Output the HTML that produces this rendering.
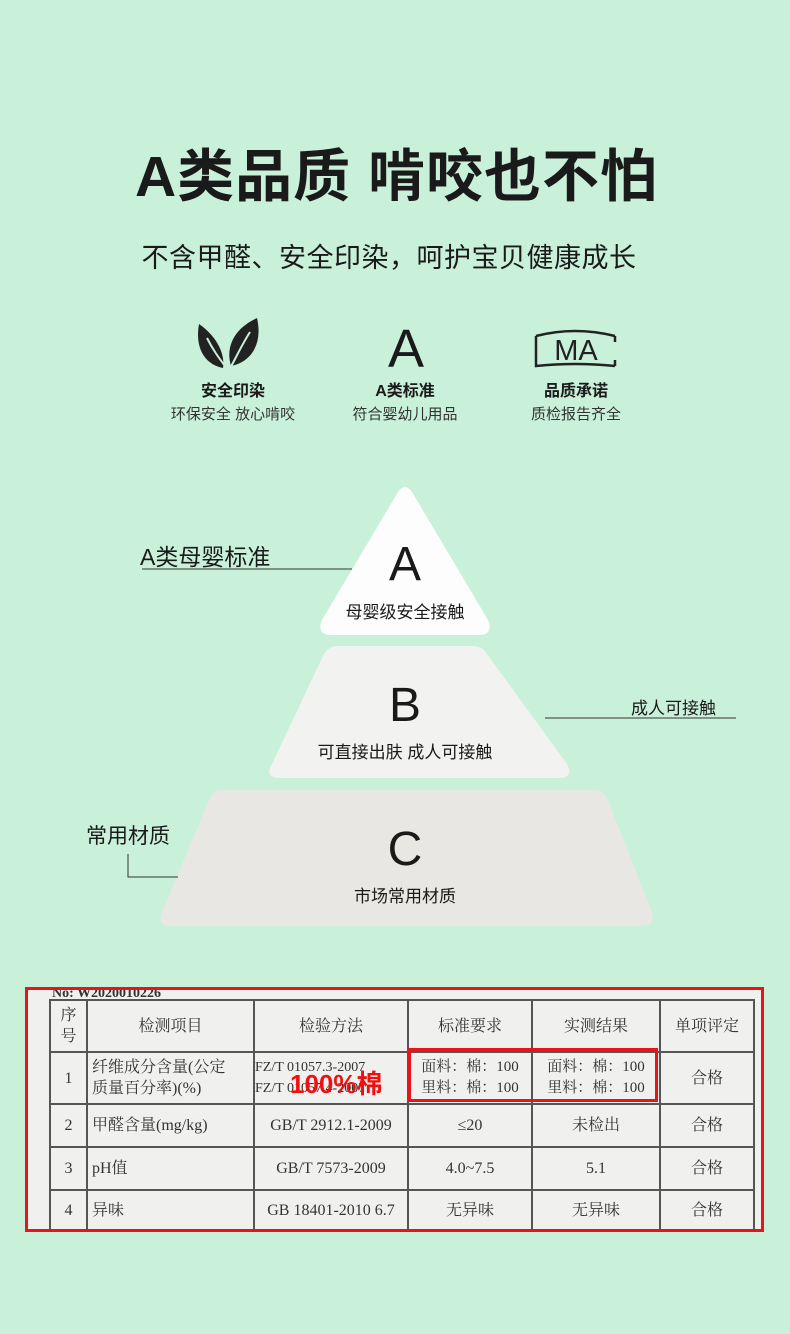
<!DOCTYPE html>
<html><head><meta charset="utf-8"><style>
body{margin:0;width:790px;height:1334px;background:#c9f1da;position:relative;overflow:hidden;font-family:"Liberation Sans","Noto Sans CJK SC",sans-serif;color:#1a1a1a}
.t{position:absolute;white-space:nowrap}
.c{text-align:center}
table{border-collapse:collapse;font-family:"Liberation Serif","Noto Serif CJK SC",serif;color:#333;table-layout:fixed}
td{border:2px solid #555;text-align:center;font-size:16px;padding:0;line-height:21px}
</style></head><body>
<div class="t c" style="left:0;width:793px;top:131px;font-size:57px;font-weight:bold;letter-spacing:1px">A类品质 啃咬也不怕</div>
<div class="t c" style="left:0;width:778px;top:236px;font-size:27px;letter-spacing:0.5px">不含甲醛、安全印染，呵护宝贝健康成长</div>

<svg style="position:absolute;left:195px;top:316px" width="75" height="58" viewBox="0 0 75 58">
<path d="M4 8 C0 30 8 48 28 52 C30 40 24 22 4 8Z" fill="#222"/>
<path d="M12 22 C18 34 24 42 30 50" stroke="#c9f1da" stroke-width="2" fill="none"/>
<path d="M62 2 C40 12 30 30 36 50 C56 46 68 28 62 2Z" fill="#222"/>
<path d="M55 16 C46 30 40 44 33 56" stroke="#c9f1da" stroke-width="2" fill="none"/>
</svg>
<div class="t c" style="left:386px;width:40px;top:318px;font-size:54px">A</div>
<svg style="position:absolute;left:533px;top:328px" width="85" height="42" viewBox="0 0 85 42">
<path d="M3 8 Q42 -2 82 8 M3 8 V38 Q42 34 82 38 M82 8 V14 M82 32 V38" stroke="#222" stroke-width="2.5" fill="none"/>
<text x="43" y="32" font-size="29" text-anchor="middle" fill="#222" font-family="Liberation Sans">MA</text>
</svg>
<div class="t c" style="left:133px;width:200px;top:377px;font-size:16px;font-weight:bold">安全印染</div>
<div class="t c" style="left:133px;width:200px;top:403px;font-size:15px;color:#333">环保安全 放心啃咬</div>
<div class="t c" style="left:305px;width:200px;top:377px;font-size:16px;font-weight:bold">A类标准</div>
<div class="t c" style="left:305px;width:200px;top:403px;font-size:15px;color:#333">符合婴幼儿用品</div>
<div class="t c" style="left:476px;width:200px;top:377px;font-size:16px;font-weight:bold">品质承诺</div>
<div class="t c" style="left:476px;width:200px;top:403px;font-size:15px;color:#333">质检报告齐全</div>

<svg style="position:absolute;left:0;top:480px" width="790" height="460">
<path d="M398 12 Q405 2 412 12 L488 140 Q494 155 478 155 L332 155 Q316 155 322 140 Z" fill="#fdfdfd"/>
<path d="M338 166 L473 166 Q482 166 487 174 L567 284 Q574 298 558 298 L280 298 Q264 298 272 284 L324 174 Q329 166 338 166Z" fill="#f2f3f0"/>
<path d="M222 310 L595 310 Q602 310 607 318 L652 432 Q656 446 640 446 L172 446 Q156 446 162 432 L210 318 Q214 310 222 310Z" fill="#e9e7e3"/>
<line x1="142" y1="89" x2="352" y2="89" stroke="#333" stroke-width="1"/>
<line x1="545" y1="238" x2="736" y2="238" stroke="#333" stroke-width="1"/>
<polyline points="128,374 128,397 178,397" stroke="#333" stroke-width="1" fill="none"/>
</svg>
<div class="t" style="left:140px;top:538px;font-size:23px">A类母婴标准</div>
<div class="t c" style="left:305px;width:200px;top:537px;font-size:48px">A</div>
<div class="t c" style="left:305px;width:200px;top:598px;font-size:17px">母婴级安全接触</div>
<div class="t" style="left:631px;top:694px;font-size:17px">成人可接触</div>
<div class="t c" style="left:305px;width:200px;top:678px;font-size:48px">B</div>
<div class="t c" style="left:255px;width:300px;top:738px;font-size:17px">可直接出肤 成人可接触</div>
<div class="t" style="left:86px;top:820px;font-size:21px">常用材质</div>
<div class="t c" style="left:305px;width:200px;top:822px;font-size:48px">C</div>
<div class="t c" style="left:305px;width:200px;top:882px;font-size:17px">市场常用材质</div>

<div style="position:absolute;left:25px;top:987px;width:733px;height:239px;border:3px solid #e8141a;background:#f0f0ef;overflow:hidden">
<div class="t" style="left:24px;top:-4px;font-size:14px;font-family:'Liberation Serif',serif;font-weight:bold;color:#333">No:  W2020010226</div>
<table style="position:absolute;left:21px;top:9px;width:706px">
<colgroup><col style="width:37px"><col style="width:167px"><col style="width:154px"><col style="width:124px"><col style="width:128px"><col></colgroup>
<tr style="height:52px"><td>序<br>号</td><td>检测项目</td><td>检验方法</td><td>标准要求</td><td>实测结果</td><td>单项评定</td></tr>
<tr style="height:52px"><td>1</td><td style="text-align:left;padding-left:4px">纤维成分含量(公定<br>质量百分率)(%)</td><td style="text-align:left;font-size:14px">FZ/T 01057.3-2007<br>FZ/T 01057.4-2007</td><td style="font-size:15px">面料：棉：100<br>里料：棉：100</td><td style="font-size:15px">面料：棉：100<br>里料：棉：100</td><td>合格</td></tr>
<tr style="height:43px"><td>2</td><td style="text-align:left;padding-left:4px">甲醛含量(mg/kg)</td><td>GB/T 2912.1-2009</td><td>≤20</td><td>未检出</td><td>合格</td></tr>
<tr style="height:43px"><td>3</td><td style="text-align:left;padding-left:4px">pH值</td><td>GB/T 7573-2009</td><td>4.0~7.5</td><td>5.1</td><td>合格</td></tr>
<tr style="height:40px"><td>4</td><td style="text-align:left;padding-left:4px">异味</td><td>GB 18401-2010 6.7</td><td>无异味</td><td>无异味</td><td>合格</td></tr>
</table>
<div style="position:absolute;left:380px;top:58px;width:244px;height:48px;border:3px solid #e8141a"></div>
<div class="t" style="left:262px;top:74px;font-size:26px;font-weight:bold;color:#f01010">100%棉</div>
</div>
</body></html>
